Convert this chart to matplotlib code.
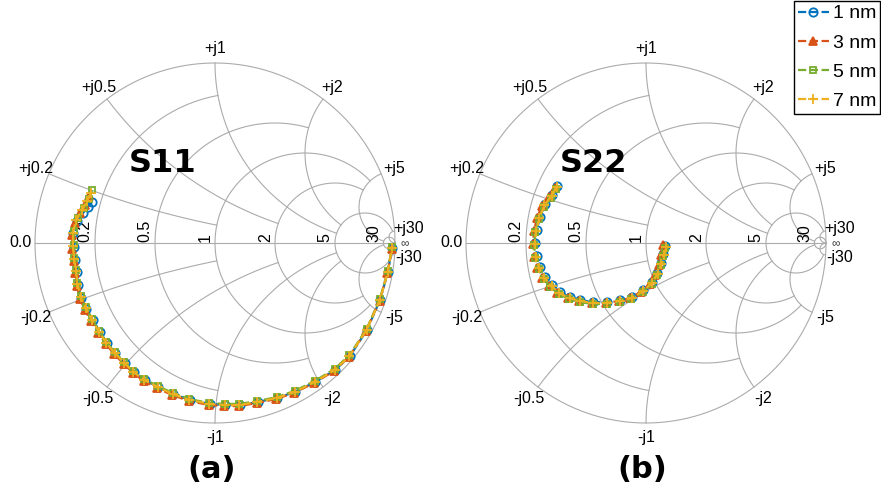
import numpy as np
import matplotlib
matplotlib.use("Agg")
import matplotlib.pyplot as plt

plt.rcParams['font.family'] = ['Liberation Sans', 'DejaVu Sans']

# grid values of the Smith chart and where each grid line stops
grid_values = [0.2, 0.5, 1, 2, 5, 30]
grid_ends = [1, 2, 5, 5, 30, np.inf]

labels = ["1 nm", "3 nm", "5 nm", "7 nm"]
colors = ["#0072BD", "#D95319", "#77AC30", "#EDB120"]
markers = ["o", "^", "s", "+"]
msizes = [6, 6, 4.5, 7]

s11_1_re = [-0.683, -0.706, -0.733, -0.767, -0.789, -0.783, -0.778, -0.767, -0.761, -0.744, -0.717, -0.678,
            -0.639, -0.600, -0.556, -0.500, -0.450, -0.389, -0.317, -0.233, -0.139, -0.028, 0.056, 0.139,
            0.239, 0.344, 0.444, 0.556, 0.667, 0.750, 0.844, 0.917, 0.961, 0.983]
s11_1_im = [0.228, 0.200, 0.167, 0.120, 0.056, -0.022, -0.094, -0.161, -0.233, -0.306, -0.367, -0.428,
            -0.494, -0.556, -0.611, -0.667, -0.717, -0.761, -0.800, -0.839, -0.872, -0.894, -0.900, -0.900,
            -0.883, -0.861, -0.828, -0.772, -0.706, -0.628, -0.483, -0.317, -0.161, -0.028]
s11_3_re = [-0.700, -0.722, -0.750, -0.778, -0.794, -0.792, -0.786, -0.775, -0.767, -0.750, -0.722, -0.689,
            -0.650, -0.606, -0.561, -0.506, -0.456, -0.394, -0.322, -0.239, -0.144, -0.033, 0.050, 0.133,
            0.233, 0.339, 0.439, 0.550, 0.661, 0.744, 0.839, 0.914, 0.958, 0.983]
s11_3_im = [0.261, 0.211, 0.167, 0.111, 0.044, -0.033, -0.100, -0.167, -0.239, -0.311, -0.372, -0.433,
            -0.500, -0.561, -0.617, -0.672, -0.722, -0.767, -0.806, -0.844, -0.878, -0.900, -0.906, -0.906,
            -0.889, -0.867, -0.833, -0.778, -0.711, -0.633, -0.489, -0.322, -0.167, -0.033]
s11_5_re = [-0.683, -0.700, -0.728, -0.761, -0.783, -0.786, -0.781, -0.772, -0.764, -0.747, -0.719, -0.683,
            -0.644, -0.603, -0.558, -0.503, -0.453, -0.392, -0.319, -0.236, -0.142, -0.031, 0.053, 0.136,
            0.236, 0.342, 0.442, 0.553, 0.664, 0.747, 0.842, 0.916, 0.960, 0.983]
s11_5_im = [0.294, 0.244, 0.194, 0.139, 0.067, -0.011, -0.083, -0.150, -0.222, -0.294, -0.356, -0.422,
            -0.489, -0.550, -0.606, -0.661, -0.711, -0.756, -0.794, -0.833, -0.867, -0.889, -0.894, -0.894,
            -0.878, -0.856, -0.822, -0.767, -0.700, -0.622, -0.478, -0.311, -0.156, -0.022]
s11_7_re = [-0.689, -0.711, -0.739, -0.772, -0.789, -0.789, -0.783, -0.772, -0.764, -0.747, -0.719, -0.683,
            -0.644, -0.603, -0.558, -0.503, -0.453, -0.392, -0.319, -0.236, -0.142, -0.031, 0.053, 0.136,
            0.236, 0.342, 0.442, 0.553, 0.664, 0.747, 0.842, 0.916, 0.960, 0.983]
s11_7_im = [0.278, 0.233, 0.183, 0.128, 0.056, -0.017, -0.089, -0.156, -0.228, -0.300, -0.361, -0.428,
            -0.494, -0.556, -0.611, -0.667, -0.717, -0.761, -0.800, -0.839, -0.872, -0.894, -0.900, -0.900,
            -0.883, -0.861, -0.828, -0.772, -0.706, -0.628, -0.483, -0.317, -0.161, -0.028]

# S22 reflection coefficient (real, imag)
s22_1_re = [-0.494, -0.522, -0.561, -0.589, -0.606, -0.617, -0.606, -0.589, -0.561, -0.522, -0.478, -0.422,
            -0.367, -0.294, -0.217, -0.144, -0.078, -0.017, 0.033, 0.061, 0.083, 0.094, 0.106]
s22_1_im = [0.317, 0.267, 0.217, 0.144, 0.072, 0.000, -0.072, -0.133, -0.189, -0.233, -0.272, -0.300,
            -0.317, -0.328, -0.328, -0.317, -0.300, -0.261, -0.217, -0.167, -0.111, -0.061, -0.017]
s22_3_re = [-0.506, -0.539, -0.578, -0.606, -0.622, -0.628, -0.622, -0.606, -0.578, -0.539, -0.494, -0.433,
            -0.372, -0.300, -0.222, -0.150, -0.089, -0.028, 0.022, 0.050, 0.072, 0.083, 0.094]
s22_3_im = [0.306, 0.256, 0.206, 0.139, 0.067, -0.006, -0.078, -0.139, -0.194, -0.239, -0.278, -0.306,
            -0.322, -0.333, -0.333, -0.322, -0.306, -0.272, -0.228, -0.178, -0.122, -0.067, -0.011]
s22_5_re = [-0.500, -0.528, -0.567, -0.597, -0.614, -0.622, -0.614, -0.597, -0.569, -0.531, -0.486, -0.428,
            -0.369, -0.297, -0.219, -0.147, -0.081, -0.019, 0.031, 0.061, 0.083, 0.097, 0.108]
s22_5_im = [0.300, 0.250, 0.200, 0.133, 0.061, -0.011, -0.083, -0.144, -0.200, -0.244, -0.283, -0.311,
            -0.328, -0.339, -0.339, -0.328, -0.311, -0.272, -0.228, -0.178, -0.122, -0.072, -0.028]
s22_7_re = [-0.497, -0.525, -0.564, -0.592, -0.611, -0.619, -0.611, -0.594, -0.564, -0.525, -0.481, -0.425,
            -0.367, -0.294, -0.217, -0.144, -0.078, -0.017, 0.033, 0.064, 0.086, 0.100, 0.111]
s22_7_im = [0.311, 0.261, 0.211, 0.139, 0.067, -0.006, -0.078, -0.139, -0.194, -0.239, -0.278, -0.306,
            -0.322, -0.333, -0.333, -0.322, -0.306, -0.267, -0.222, -0.172, -0.117, -0.067, -0.022]

s11 = [(s11_1_re, s11_1_im), (s11_3_re, s11_3_im), (s11_5_re, s11_5_im), (s11_7_re, s11_7_im)]
s22 = [(s22_1_re, s22_1_im), (s22_3_re, s22_3_im), (s22_5_re, s22_5_im), (s22_7_re, s22_7_im)]

GRID = "#ababab"


def z2g(z):
    return (z - 1) / (z + 1)


def draw_smith(ax):
    t = np.linspace(0, 2 * np.pi, 500)
    ax.plot(np.cos(t), np.sin(t), color=GRID, lw=0.8, zorder=1)
    ax.plot([-1, 1], [0, 0], color=GRID, lw=0.8, zorder=1)
    for v, end in zip(grid_values, grid_ends):
        a = np.arctan(end) if np.isfinite(end) else np.pi / 2 - 1e-4
        # resistance circle
        x = np.tan(np.linspace(-a, a, 600))
        g = z2g(v + 1j * x)
        ax.plot(g.real, g.imag, color=GRID, lw=0.8, zorder=1)
        # reactance arcs
        r = np.tan(np.linspace(0, a, 400))
        for s in (1, -1):
            g = z2g(r + 1j * s * v)
            ax.plot(g.real, g.imag, color=GRID, lw=0.8, zorder=1)
        # resistance label
        gl = (v - 1) / (v + 1)
        ax.text(gl - 0.012, 0.005, f"{v:g}", rotation=90, ha="right", va="bottom", fontsize=11.5)
        # reactance labels
        for s, sign in ((1, "+"), (-1, "-")):
            g = z2g(1j * s * v)
            ly = 1.08 * g.imag
            if v == 30:
                ly = 0.082 * s
            ax.text(1.08 * g.real, ly, f"{sign}j{v:g}", ha="center", va="center", fontsize=11.5)
    ax.text(-1.08, 0, "0.0", ha="center", va="center", fontsize=11.5)
    ax.text(1.055, -0.006, "\u221e", ha="center", va="center", fontsize=8.5, color="#333333")
    ax.set_xlim(-1.18, 1.18)
    ax.set_ylim(-1.18, 1.18)
    ax.axis("off")


fig = plt.figure(figsize=(8.81, 4.92), dpi=100)
ax1 = fig.add_axes([2.6 / 881, 1 - 455.4 / 492, 424.8 / 881, 424.8 / 492])
ax2 = fig.add_axes([433.6 / 881, 1 - 455.4 / 492, 424.8 / 881, 424.8 / 492])

for ax, data, name, tag in ((ax1, s11, "S11", "(a)"), (ax2, s22, "S22", "(b)")):
    draw_smith(ax)
    for (re, im), lab, c, m, ms in zip(data, labels, colors, markers, msizes):
        mfc = c if m == "^" else "none"
        ax.plot(re, im, linestyle="--", color=c, marker=m, markersize=ms, mfc=mfc,
                mew=1.3, lw=1.6, label=lab, zorder=3)
    ax.text(-0.29, 0.44, name, ha="center", va="center", fontsize=23, fontweight="bold",
            family="DejaVu Sans")
    ax.text(-0.02, -1.26, tag, ha="center", va="center", fontsize=22, fontweight="bold",
            family="DejaVu Sans")

handles, labs = ax1.get_legend_handles_labels()
fig.legend(handles, labs, loc="upper right", bbox_to_anchor=(1.0, 1.0), fontsize=14,
           frameon=True, fancybox=False, edgecolor="black", framealpha=1,
           handlelength=1.6, handletextpad=0.2, borderpad=0.2, labelspacing=0.6,
           borderaxespad=0.05)

fig.savefig("out.png", dpi=100)
